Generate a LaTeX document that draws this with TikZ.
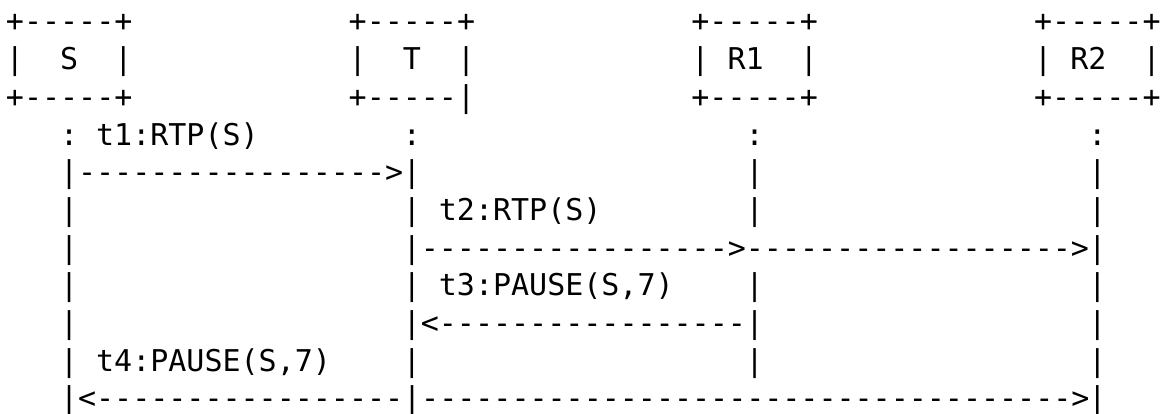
\documentclass[tikz,border=0pt]{standalone}
\usepackage{fontspec}
\setmonofont{DejaVu Sans Mono}
\ExplSyntaxOn
\NewDocumentCommand\dashrun{m}{\prg_replicate:nn{#1}{-}}
\ExplSyntaxOff
\tikzset{asc/.style={anchor=base west,inner sep=0pt,outer sep=0pt,font=\ttfamily\fontsize{10pt}{12pt}\selectfont}}
\begin{document}
\begin{tikzpicture}[x=6.013pt,y=-12.567pt]
\useasboundingbox (0,0) rectangle (64.64,10.955);
\fill[white] (0,0) rectangle (64.64,10.955);
\begin{scope}[shift={(0.331,0.846)}]
% participant boxes
\foreach \n/\cc/\lab/\bot in {S/0/{~~S~~}/+, T/19/{~~T~~}/|, R1/38/{~R1~~}/+, R2/57/{~R2~~}/+} {
  \node[asc] (\n-top) at (\cc,0) {+-----+};
  \node[asc] (\n-mid) at (\cc,1) {|\lab|};
  \node[asc] (\n-bot) at (\cc,2) {+-----\bot};
}
% lifelines
\foreach \n/\cc in {S/3,T/22,R1/41,R2/60} \node[asc] (\n-head) at (\cc,3) {:};
\foreach \r in {4,...,10} {
  \node[asc] (S-\r) at (3,\r) {|};
  \node[asc] (R2-\r) at (60,\r) {|};
}
\foreach \r in {4,...,9} \node[asc] (T-\r) at (22,\r) {|};
\foreach \r in {4,5,7,8,9} \node[asc] (R1-\r) at (41,\r) {|};
% messages
\node[asc] (m1lab) at (5,3) {t1:RTP(S)};
\node[asc] (m1) at (4,4) {\dashrun{17}>};
\node[asc] (m2lab) at (24,5) {t2:RTP(S)};
\node[asc] (m2) at (23,6) {\dashrun{17}>\dashrun{18}>};
\node[asc] (m3lab) at (24,7) {t3:PAUSE(S,7)};
\node[asc] (m3) at (23,8) {<\dashrun{17}};
\node[asc] (m4lab) at (5,9) {t4:PAUSE(S,7)};
\node[asc] (m4) at (4,10) {<\dashrun{17}|\dashrun{36}>};
\end{scope}
\end{tikzpicture}
\end{document}
